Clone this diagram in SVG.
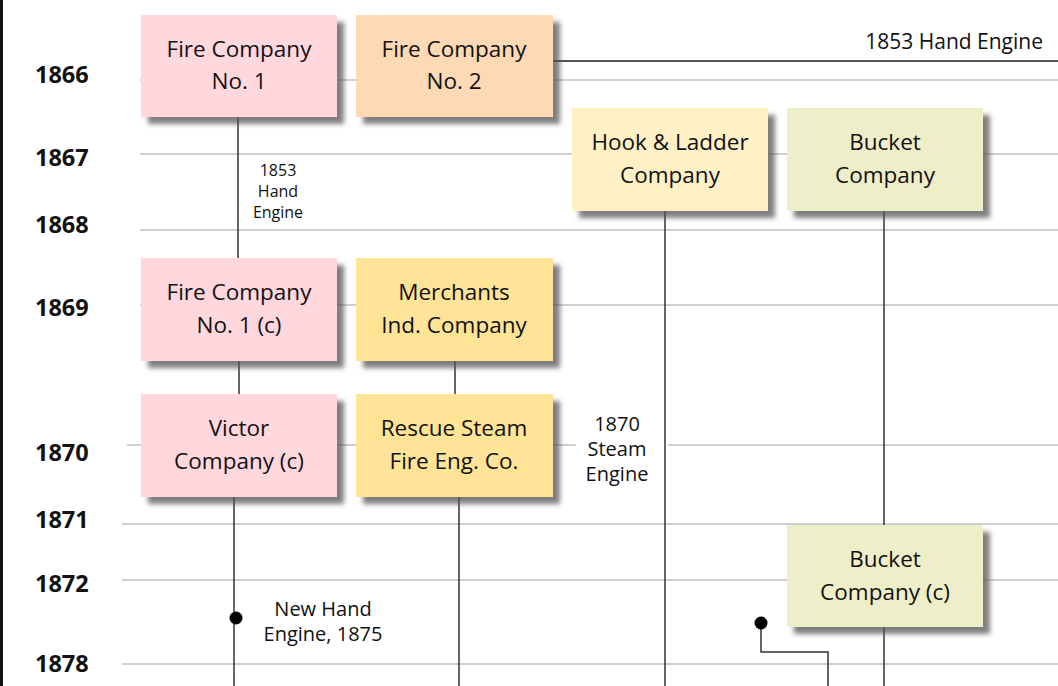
<svg xmlns="http://www.w3.org/2000/svg" width="1058" height="686" viewBox="0 0 1058 686">
<defs>
<filter id="sh" x="-10%" y="-10%" width="130%" height="140%">
<feDropShadow dx="7" dy="7" stdDeviation="2.5" flood-color="#555" flood-opacity="0.75"/>
</filter>
<style>
.grid{stroke:#cfcfcf;stroke-width:2;fill:none}
.conn{stroke:#333;stroke-width:1.5;fill:none}
.yr{font-family:"Open Sans","Noto Sans",sans-serif;font-weight:bold;font-size:23.5px;fill:#111}
.nt{font-family:"Open Sans","Noto Sans",sans-serif;font-size:22.5px;fill:#111;text-anchor:middle}
.lb{font-family:"Open Sans","Noto Sans",sans-serif;font-size:20px;fill:#111;text-anchor:middle}
.sm{font-family:"Open Sans","Noto Sans",sans-serif;font-size:16px;fill:#111;text-anchor:middle}
.box{filter:url(#sh)}
.pink{fill:#ffd7dc}
.peach{fill:#fdd9b6}
.ltyel{fill:#fff0c6}
.olive{fill:#eeeec8}
.yel{fill:#ffe497}
</style>
</defs>
<rect x="0" y="0" width="1058" height="686" fill="#ffffff"/>
<rect x="0" y="0" width="3" height="686" fill="#111"/>
<g id="grid">
<line class="grid" x1="140" y1="80" x2="1058" y2="80"/>
<line class="grid" x1="140" y1="154" x2="1058" y2="154"/>
<line class="grid" x1="140" y1="230" x2="1058" y2="230"/>
<line class="grid" x1="140" y1="305" x2="1058" y2="305"/>
<line class="grid" x1="127" y1="445" x2="576" y2="445"/>
<line class="grid" x1="668" y1="445" x2="1058" y2="445"/>
<line class="grid" x1="122" y1="524" x2="1058" y2="524"/>
<line class="grid" x1="122" y1="580" x2="1058" y2="580"/>
<line class="grid" x1="122" y1="664" x2="1058" y2="664"/>
</g>
<g id="years">
<text class="yr" x="35" y="83">1866</text>
<text class="yr" x="35" y="166">1867</text>
<text class="yr" x="35" y="233">1868</text>
<text class="yr" x="35" y="316">1869</text>
<text class="yr" x="35" y="461">1870</text>
<text class="yr" x="35" y="528">1871</text>
<text class="yr" x="35" y="592">1872</text>
<text class="yr" x="35" y="672">1878</text>
</g>
<g id="connectors">
<line class="conn" x1="553" y1="61" x2="1058" y2="61" style="stroke:#555;stroke-width:2"/>
<line class="conn" x1="238" y1="117" x2="238" y2="258"/>
<line class="conn" x1="239" y1="361" x2="239" y2="394"/>
<line class="conn" x1="455" y1="361" x2="455" y2="394"/>
<line class="conn" x1="234" y1="497" x2="234" y2="686"/>
<line class="conn" x1="459" y1="497" x2="459" y2="686"/>
<line class="conn" x1="665" y1="211" x2="665" y2="686"/>
<line class="conn" x1="884" y1="211" x2="884" y2="525"/>
<line class="conn" x1="884" y1="627" x2="884" y2="686"/>
<polyline class="conn" points="761,623 761,652 828,652 828,686"/>
<circle cx="236" cy="618" r="6.5" fill="#000"/>
<circle cx="761" cy="623" r="6.5" fill="#000"/>
</g>
<g id="n-fire1">
<rect class="box pink" x="141" y="15" width="196" height="102"/>
<text class="nt" x="239" y="57">Fire Company</text>
<text class="nt" x="239" y="89">No. 1</text>
</g>
<g id="n-fire2">
<rect class="box peach" x="356" y="15" width="197" height="102"/>
<text class="nt" x="454" y="57">Fire Company</text>
<text class="nt" x="454" y="89">No. 2</text>
</g>
<g id="n-hook">
<rect class="box ltyel" x="572" y="108" width="196" height="103"/>
<text class="nt" x="670" y="150">Hook &amp; Ladder</text>
<text class="nt" x="670" y="183">Company</text>
</g>
<g id="n-bucket">
<rect class="box olive" x="787" y="108" width="196" height="103"/>
<text class="nt" x="885" y="150">Bucket</text>
<text class="nt" x="885" y="183">Company</text>
</g>
<g id="n-fire1c">
<rect class="box pink" x="141" y="258" width="196" height="103"/>
<text class="nt" x="239" y="300">Fire Company</text>
<text class="nt" x="239" y="333">No. 1 (c)</text>
</g>
<g id="n-merchants">
<rect class="box yel" x="356" y="258" width="197" height="103"/>
<text class="nt" x="454" y="300">Merchants</text>
<text class="nt" x="454" y="333">Ind. Company</text>
</g>
<g id="n-victor">
<rect class="box pink" x="141" y="394" width="196" height="103"/>
<text class="nt" x="239" y="436">Victor</text>
<text class="nt" x="239" y="469">Company (c)</text>
</g>
<g id="n-rescue">
<rect class="box yel" x="356" y="394" width="197" height="103"/>
<text class="nt" x="454" y="436">Rescue Steam</text>
<text class="nt" x="454" y="469">Fire Eng. Co.</text>
</g>
<g id="n-bucketc">
<rect class="box olive" x="787" y="525" width="196" height="102"/>
<text class="nt" x="885" y="567">Bucket</text>
<text class="nt" x="885" y="600">Company (c)</text>
</g>
<g id="labels">
<text class="lb" x="1043" y="49" style="text-anchor:end;font-size:21px">1853 Hand Engine</text>
<text class="sm" x="278" y="176">1853</text>
<text class="sm" x="278" y="197">Hand</text>
<text class="sm" x="278" y="218">Engine</text>
<text class="lb" x="617" y="431">1870</text>
<text class="lb" x="617" y="456">Steam</text>
<text class="lb" x="617" y="481">Engine</text>
<text class="lb" x="323" y="616">New Hand</text>
<text class="lb" x="323" y="641">Engine, 1875</text>
</g>
</svg>
